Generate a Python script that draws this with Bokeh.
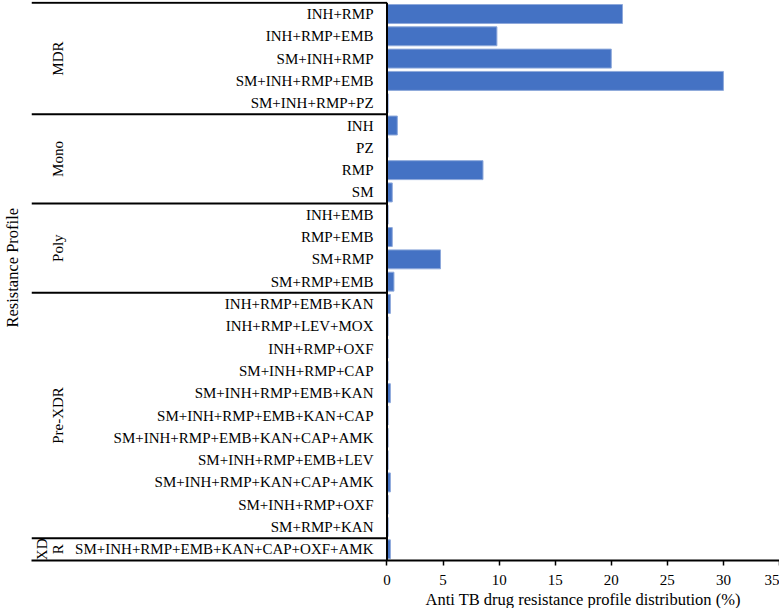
import math
import numpy as np
from bokeh.plotting import figure
from bokeh.models import Range1d, FixedTicker, Title, ColumnDataSource
from bokeh.core.properties import value
from bokeh.embed import file_html
from bokeh.resources import INLINE

# ---- data ----
groups = ["MDR", "Mono", "Poly", "Pre-XDR", "XDR"]
group_sizes = [5, 4, 4, 11, 1]
profiles = [
    "INH+RMP", "INH+RMP+EMB", "SM+INH+RMP", "SM+INH+RMP+EMB", "SM+INH+RMP+PZ",
    "INH", "PZ", "RMP", "SM",
    "INH+EMB", "RMP+EMB", "SM+RMP", "SM+RMP+EMB",
    "INH+RMP+EMB+KAN", "INH+RMP+LEV+MOX", "INH+RMP+OXF", "SM+INH+RMP+CAP",
    "SM+INH+RMP+EMB+KAN", "SM+INH+RMP+EMB+KAN+CAP", "SM+INH+RMP+EMB+KAN+CAP+AMK",
    "SM+INH+RMP+EMB+LEV", "SM+INH+RMP+KAN+CAP+AMK", "SM+INH+RMP+OXF", "SM+RMP+KAN",
    "SM+INH+RMP+EMB+KAN+CAP+OXF+AMK",
]
distribution = [
    21.0, 9.8, 20.0, 30.0, 0.1,
    0.92, 0.1, 8.56, 0.47,
    0.1, 0.47, 4.77, 0.62,
    0.3, 0.1, 0.1, 0.1,
    0.3, 0.1, 0.1,
    0.1, 0.3, 0.1, 0.1,
    0.3,
]
x_ticks = [0, 5, 10, 15, 20, 25, 30, 35]
x_title = "Anti TB drug resistance profile distribution (%)"
y_title = "Resistance Profile"

# ---- layout ----
FONT = value("Liberation Serif")
n = len(profiles)
XL = -31.7
XR = 35
rows = np.arange(n) + 0.5
bounds = np.concatenate([[0], np.cumsum(group_sizes)])

p = figure(width=779, height=608, x_range=Range1d(XL, XR), y_range=Range1d(n, -0.06),
           output_backend="svg", toolbar_location=None, y_axis_location=None,
           min_border_left=0, min_border_right=0, min_border_top=1, min_border_bottom=0)
p.xgrid.visible = False
p.ygrid.visible = False
p.outline_line_color = None
p.background_fill_color = "white"

src = ColumnDataSource(dict(y=rows, v=distribution, name=profiles))
p.hbar(y="y", left=0, right="v", height=0.85, source=src,
       fill_color="#4472C4", line_color="#8EA9DB", line_width=1)

# category labels
p.text(x=-1.2, y="y", text="name", source=src, text_font=FONT, text_font_size="15px",
       text_align="right", text_baseline="middle", text_color="#000000")

# group separators
sep = bounds[:-1]
p.segment(x0=[XL] * len(sep), y0=sep, x1=[0] * len(sep), y1=sep,
          line_color="black", line_width=2)
p.segment(x0=[0], y0=[0], x1=[0], y1=[n], line_color="black", line_width=2)

# group labels
centers = (bounds[:-1] + bounds[1:]) / 2
single = [(g, c) for g, c, s in zip(groups, centers, group_sizes) if s > 1]
p.text(x=[-29.3] * len(single), y=[c for _, c in single], text=[g for g, _ in single],
       angle=math.pi / 2, text_font=FONT, text_font_size="15px",
       text_align="center", text_baseline="middle", text_color="#000000")
# narrow group (wrapped label)
xdr_c = centers[-1]
p.text(x=[-30.75, -29.3], y=[xdr_c, xdr_c], text=[groups[-1][:2], groups[-1][2:]],
       angle=math.pi / 2, text_font=FONT, text_font_size="15px",
       text_align="center", text_baseline="middle", text_color="#000000")

# x axis
ax = p.xaxis[0]
ax.ticker = FixedTicker(ticks=x_ticks)
ax.axis_line_width = 2
ax.axis_line_color = "black"
ax.major_tick_in = 0
ax.major_tick_out = 5
ax.major_tick_line_width = 1.5
ax.major_tick_line_color = "black"
ax.minor_tick_out = 0
ax.minor_tick_in = 0
ax.major_label_standoff = 9
ax.major_label_text_font = "Liberation Serif"
ax.major_label_text_font_size = "15px"
ax.major_label_text_color = "black"

p.add_layout(Title(text=x_title, align="left", offset=394, standoff=0,
                   text_font="Liberation Serif", text_font_size="16.5px",
                   text_font_style="normal", text_color="black"), "below")
# spacer between frame and the y title
p.add_layout(Title(text=" ", standoff=0, text_font="Liberation Serif",
                   text_font_size="7px"), "left")
p.add_layout(Title(text=y_title, align="left", offset=233, standoff=0,
                   text_font="Liberation Serif", text_font_size="16.5px",
                   text_font_style="normal", text_color="black"), "left")

open("out.html", "w").write(file_html(p, INLINE))
